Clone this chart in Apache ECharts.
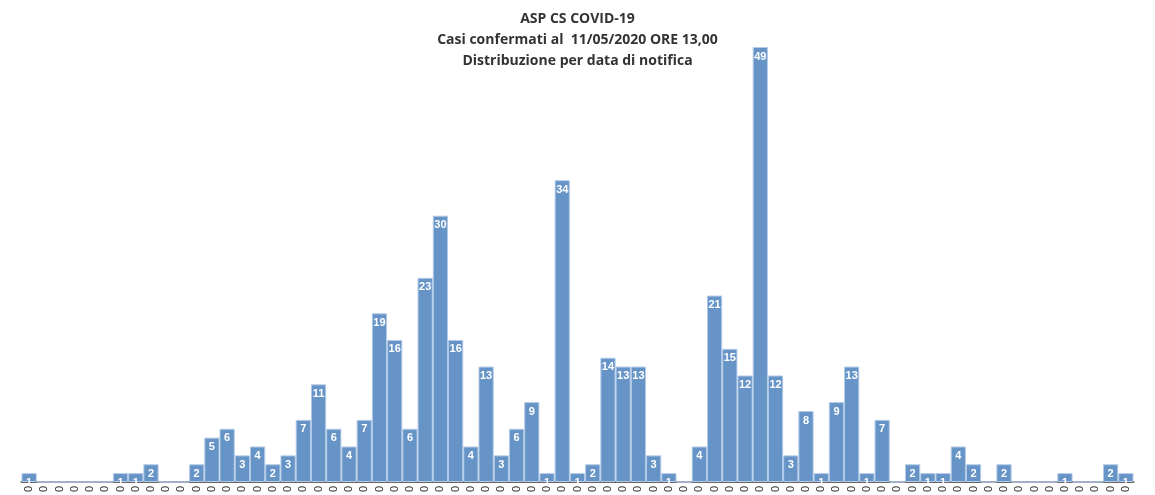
<!DOCTYPE html>
<html><head><meta charset="utf-8">
<script src="https://cdn.jsdelivr.net/npm/echarts@6/dist/echarts.min.js"></script>
<style>html,body{margin:0;padding:0;background:#fff}#c{width:1155px;height:495px}</style>
</head><body><div id="c"></div>
<script>
var titleLines = ["ASP CS COVID-19", "Casi confermati al  11/05/2020 ORE 13,00", "Distribuzione per data di notifica"];
var categories = ["0","0","0","0","0","0","0","0","0","0","0","0","0","0","0","0","0","0","0","0","0","0","0","0","0","0","0","0","0","0","0","0","0","0","0","0","0","0","0","0","0","0","0","0","0","0","0","0","0","0","0","0","0","0","0","0","0","0","0","0","0","0","0","0","0","0","0","0","0","0","0","0","0"];
var values = [1,0,0,0,0,0,1,1,2,0,0,2,5,6,3,4,2,3,7,11,6,4,7,19,16,6,23,30,16,4,13,3,6,9,1,34,1,2,14,13,13,3,1,0,4,21,15,12,49,12,3,8,1,9,13,1,7,0,2,1,1,4,2,0,2,0,0,0,1,0,0,2,1];

var chart = echarts.init(document.getElementById('c'));
chart.setOption({
  animation: false,
  title: {
    text: titleLines.join('\n'),
    left: 'center', top: 4,
    textStyle: {fontFamily: 'Open Sans', fontWeight: 'bold', fontSize: 14, color: '#333', lineHeight: 21}
  },
  grid: {left: 21.5, right: 21.5, top: 47, bottom: 13, containLabel: false, outerBoundsMode: 'none'},
  xAxis: {
    type: 'category', data: categories,
    axisLine: {lineStyle: {color: '#666', width: 2}},
    axisTick: {show: false},
    axisLabel: {rotate: 90, interval: 0, color: '#333', fontFamily: 'Liberation Sans', fontSize: 11, margin: 4}
  },
  yAxis: {type: 'value', min: 0, max: 49, show: false, splitLine: {show: false}},
  series: [{
    type: 'bar', data: values, barCategoryGap: 0, barGap: 0,
    itemStyle: {color: '#6794c6', borderColor: '#b3cbe8', borderWidth: 1},
    label: {
      show: true, position: 'insideTop', distance: 4, color: '#fff', fontWeight: 'bold',
      fontFamily: 'Liberation Sans', fontSize: 11,
      formatter: function(p){ return p.value === 0 ? '' : p.value; }
    }
  }]
});
</script></body></html>
